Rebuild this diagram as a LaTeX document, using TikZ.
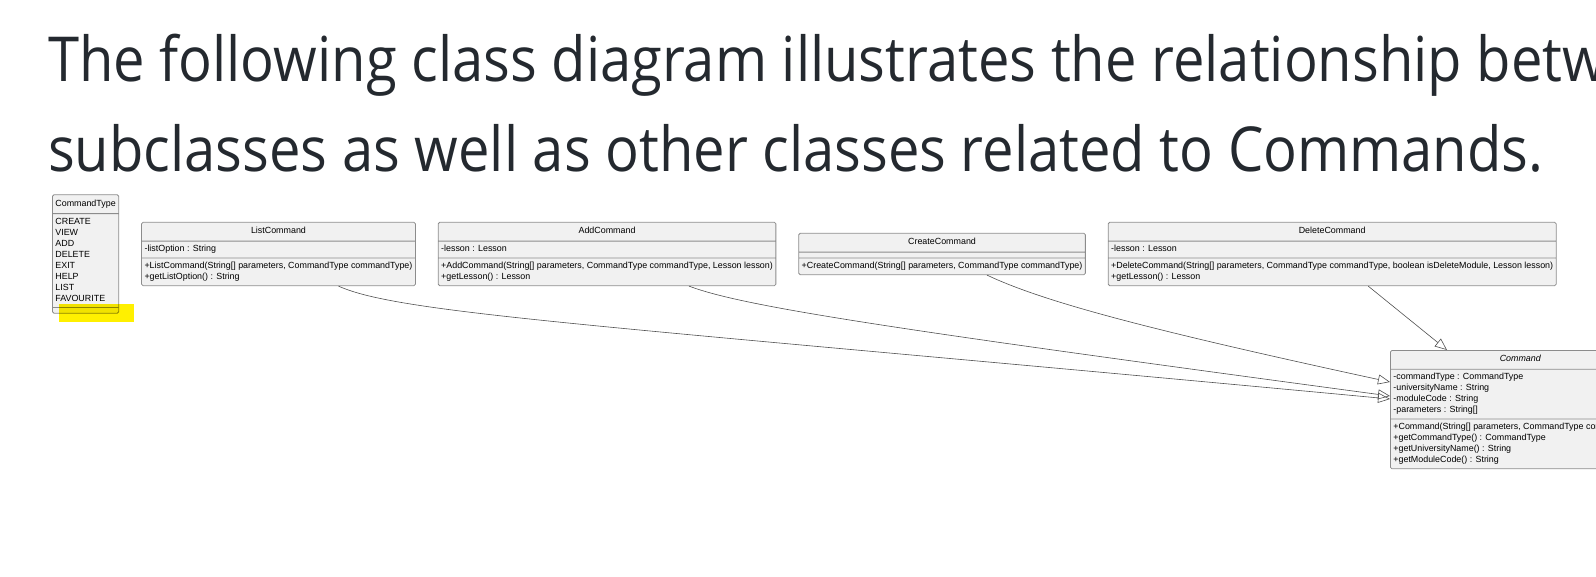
\documentclass[tikz,border=0pt]{standalone}
\usepackage{fontspec}
\setmainfont{Liberation Sans}
\newfontfamily\headfont[FakeStretch=0.905]{Open Sans}
\usepackage{tikz}
\usetikzlibrary{shapes.multipart,arrows.meta,positioning,calc}

\definecolor{umlfill}{RGB}{241,241,241}
\definecolor{umlline}{RGB}{140,140,140}
\definecolor{umlarrow}{RGB}{80,80,80}
\definecolor{headtext}{RGB}{36,41,47}
\definecolor{marker}{RGB}{255,240,0}

\newcommand{\umltitle}[1]{\rule[-4.5pt]{0pt}{13pt}#1}
\newcommand{\umlrows}[1]{\begin{tabular}{@{}l@{}}#1\end{tabular}}
\newcommand{\umlempty}{\rule{0.1pt}{0pt}}

\begin{document}
\begin{tikzpicture}[
    x=1pt, y=-1pt,
    node distance=22pt,
    heading/.style={font=\headfont\fontsize{62}{72}\selectfont, text=headtext, inner sep=0pt, anchor=base west},
    uml/.style={rectangle split, rectangle split parts=3, draw=umlline, fill=umlfill, line width=0.8pt,
        rounded corners=1.5pt, inner xsep=3pt, inner ysep=2.5pt, font=\fontsize{8.9}{11}\selectfont,
        rectangle split part align={center,left,left},
        rectangle split empty part height=0pt, rectangle split empty part depth=0pt},
    arrow/.style={-{Triangle[open, length=12pt, width=10pt]}, draw=umlarrow, line width=0.6pt}
]
\clip (0,0) rectangle (1596,576);

% Heading
\node[heading] (title1) at (48,81) {The following class diagram illustrates the relationship between};
\node[heading] (title2) at (48,171) {subclasses as well as other classes related to Commands.};

% Enum
\node[uml, anchor=west] (cmdtype) at (52,254) {\umltitle{CommandType}
    \nodepart{two}\umlrows{CREATE\\VIEW\\ADD\\DELETE\\EXIT\\HELP\\LIST\\FAVOURITE}
    \nodepart{three}\umlempty};

% Subclasses
\node[uml, right=of cmdtype] (list) {\umltitle{ListCommand}
    \nodepart{two}\umlrows{-listOption : String}
    \nodepart{three}\umlrows{+ListCommand(String[] parameters, CommandType commandType)\\+getListOption() : String}};
\node[uml, right=of list] (add) {\umltitle{AddCommand}
    \nodepart{two}\umlrows{-lesson : Lesson}
    \nodepart{three}\umlrows{+AddCommand(String[] parameters, CommandType commandType, Lesson lesson)\\+getLesson() : Lesson}};
\node[uml, right=of add] (create) {\umltitle{CreateCommand}
    \nodepart{two}\umlempty
    \nodepart{three}\umlrows{+CreateCommand(String[] parameters, CommandType commandType)}};
\node[uml, right=of create] (delete) {\umltitle{DeleteCommand}
    \nodepart{two}\umlrows{-lesson : Lesson}
    \nodepart{three}\umlrows{+DeleteCommand(String[] parameters, CommandType commandType, boolean isDeleteModule, Lesson lesson)\\+getLesson() : Lesson}};

% Abstract parent
\node[uml, anchor=north west] (cmd) at (1390,350) {\umltitle{\textit{Command}}
    \nodepart{two}\umlrows{-commandType : CommandType\\-universityName : String\\-moduleCode : String\\-parameters : String[]}
    \nodepart{three}\umlrows{+Command(String[] parameters, CommandType commandType)\\+getCommandType() : CommandType\\+getUniversityName() : String\\+getModuleCode() : String}};

% Arrows
\draw[arrow] ($(list.south)+(60,0)$) .. controls +(62,28) and +(-790,-74) .. ($(cmd.north west)+(0,49)$);
\draw[arrow] ($(add.south)+(82,0)$) .. controls +(55,21) and +(-490,-66) .. ($(cmd.north west)+(0,46)$);
\draw[arrow] ($(create.south)+(45,0)$) .. controls +(57,27) and +(-240,-52) .. ($(cmd.north west)+(0,32)$);
\draw[arrow] ($(delete.south)+(36,0)$) -- ($(cmd.north west)+(57,0)$);

% Highlight
\begin{scope}[blend mode=multiply]
\fill[marker] (59,304) rectangle (134,322);
\end{scope}

\end{tikzpicture}
\end{document}
